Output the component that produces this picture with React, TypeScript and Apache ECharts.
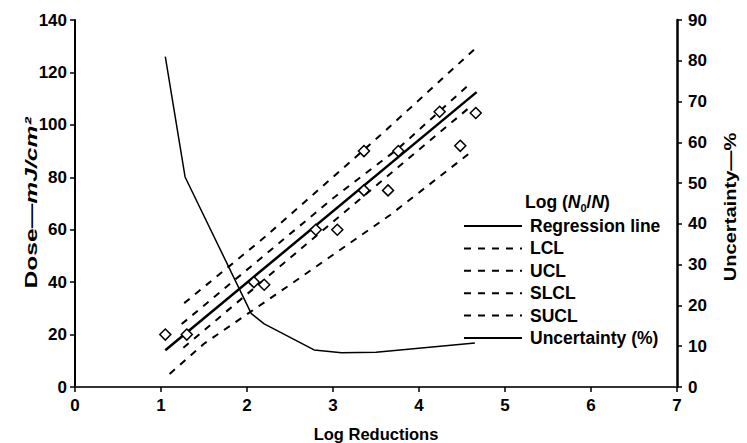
import React, { useEffect, useRef } from 'react';
import * as echarts from 'echarts';

// Observed data points (Log(N0/N) vs Dose)
const pointX = [1.05, 1.3, 2.08, 2.2, 2.8, 3.05, 3.36, 3.36, 3.64, 3.76, 4.24, 4.48, 4.66];
const pointY = [20, 20, 40, 39, 60, 60, 90, 75, 75, 90, 105, 92, 104.5];

// Regression line
const regX = [1.05, 4.67];
const regY = [14, 112.5];

// Confidence limits
const lclX = [1.26, 3.0, 4.6];
const lclY = [15, 63, 107];
const uclX = [1.24, 3.0, 3.76, 4.57];
const uclY = [24, 72, 91, 115];
// Prediction limits
const slclX = [1.1, 1.5, 2.5, 3.66, 4.62];
const slclY = [5, 16.5, 39, 65.5, 90];
const suclX = [1.27, 2.2, 3.1, 3.55, 4.65];
const suclY = [32, 57, 83, 96, 129];

// Uncertainty (%) on right axis
const uncX = [1.05, 1.28, 2.05, 2.2, 2.78, 3.1, 3.5, 4.65];
const uncY = [81, 51.5, 18, 15.5, 9.1, 8.4, 8.5, 10.8];

const legendNames = ['Regression line', 'LCL', 'UCL', 'SLCL', 'SUCL', 'Uncertainty (%)'];

const FONT = '"Liberation Sans", Arial, sans-serif';

const pairs = (xs: number[], ys: number[]) => xs.map((x, i) => [x, ys[i]]);

export default function App() {
  const ref = useRef<HTMLDivElement>(null);
  useEffect(() => {
    const chart = echarts.init(ref.current!, null, { renderer: 'svg' });
    const dashed = (name: string, xs: number[], ys: number[]) => ({
      name,
      type: 'line',
      data: pairs(xs, ys),
      symbol: 'none',
      lineStyle: { color: '#000', width: 2, type: [7, 7] },
      itemStyle: { color: '#000' },
      z: 3,
    });
    const tickLabel = { color: '#000', fontFamily: FONT, fontWeight: 'bold', fontSize: 17 };
    chart.setOption({
      animation: false,
      backgroundColor: '#fff',
      grid: { left: 75, right: 70, top: 20, bottom: 56, outerBoundsMode: 'none', containLabel: false },
      xAxis: {
        type: 'value',
        min: 0,
        max: 7,
        interval: 1,
        name: 'Log Reductions',
        nameLocation: 'middle',
        nameGap: 38,
        nameTextStyle: { color: '#000', fontFamily: FONT, fontWeight: 'bold', fontSize: 16.5 },
        axisLine: { show: true, onZero: false, lineStyle: { color: '#333', width: 2 } },
        axisTick: { show: true, length: 5, lineStyle: { color: '#000', width: 1.5 } },
        axisLabel: { ...tickLabel, margin: 10 },
        splitLine: { show: false },
      },
      yAxis: [
        {
          type: 'value',
          min: 0,
          max: 140,
          interval: 20,
          position: 'left',
          axisLine: { show: true, onZero: false, lineStyle: { color: '#000', width: 2 } },
          axisTick: { show: true, length: 5, lineStyle: { color: '#000', width: 1.5 } },
          axisLabel: { ...tickLabel, margin: 8 },
          splitLine: { show: false },
        },
        {
          type: 'value',
          min: 0,
          max: 90,
          interval: 10,
          position: 'right',
          axisLine: { show: true, onZero: false, lineStyle: { color: '#000', width: 2.5 } },
          axisTick: { show: true, length: 5, lineStyle: { color: '#000', width: 1.5 } },
          axisLabel: { ...tickLabel, margin: 11 },
          splitLine: { show: false },
        },
      ],
      legend: {
        data: legendNames,
        orient: 'vertical',
        left: 458,
        top: 212,
        itemWidth: 58,
        itemHeight: 16,
        itemGap: 4.4,
        itemStyle: { opacity: 0 },
        textStyle: {
          color: '#000',
          fontFamily: FONT,
          fontWeight: 'bold',
          fontSize: 17.5,
          lineHeight: 16,
          padding: [0, 0, 0, 3],
        },
      },
      graphic: [
        {
          type: 'text',
          x: 525,
          y: 202,
          style: {
            text: '{a|Log (}{i|N}{s|0}{a|/}{i|N}{a|)}',
            align: 'left',
            verticalAlign: 'middle',
            rich: {
              a: { fontFamily: FONT, fontWeight: 'bold', fontSize: 17.5, fill: '#000', lineHeight: 22 },
              i: { fontFamily: FONT, fontWeight: 'bold', fontStyle: 'italic', fontSize: 17.5, fill: '#000', lineHeight: 22 },
              s: { fontFamily: FONT, fontWeight: 'bold', fontSize: 11, fill: '#000', lineHeight: 11, verticalAlign: 'bottom' },
            },
          },
        },
        {
          type: 'text',
          x: 31,
          y: 203,
          rotation: Math.PI / 2,
          scaleX: 1.45,
          style: {
            text: '{a|Dose—}{i|mJ/cm²}',
            align: 'center',
            verticalAlign: 'middle',
            rich: {
              a: { fontFamily: FONT, fontWeight: 'bold', fontSize: 17, fill: '#000' },
              i: { fontFamily: FONT, fontWeight: 'bold', fontStyle: 'italic', fontSize: 17, fill: '#000' },
            },
          },
        },
        {
          type: 'text',
          x: 730,
          y: 207,
          rotation: Math.PI / 2,
          scaleX: 1.22,
          style: {
            text: 'Uncertainty—%',
            align: 'center',
            verticalAlign: 'middle',
            fontFamily: FONT,
            fontWeight: 'bold',
            fontSize: 16.5,
            fill: '#000',
          },
        },
      ],
      series: [
        {
          name: 'Log (N0/N)',
          type: 'scatter',
          data: pairs(pointX, pointY),
          symbol: 'diamond',
          symbolSize: 11,
          itemStyle: { color: '#fff', borderColor: '#000', borderWidth: 1.5, opacity: 1 },
          z: 5,
        },
        {
          name: 'Regression line',
          type: 'line',
          data: pairs(regX, regY),
          symbol: 'none',
          lineStyle: { color: '#000', width: 2.5, type: 'solid' },
          itemStyle: { color: '#000' },
          z: 4,
        },
        dashed('LCL', lclX, lclY),
        dashed('UCL', uclX, uclY),
        dashed('SLCL', slclX, slclY),
        dashed('SUCL', suclX, suclY),
        {
          name: 'Uncertainty (%)',
          type: 'line',
          yAxisIndex: 1,
          data: pairs(uncX, uncY),
          symbol: 'none',
          lineStyle: { color: '#000', width: 1.5, type: 'solid' },
          itemStyle: { color: '#000' },
          z: 3,
        },
      ],
    });
    return () => chart.dispose();
  }, []);
  return (
    <div
      ref={ref}
      style={{ position: 'fixed', left: 0, top: 0, width: 747, height: 443, background: '#fff' }}
    />
  );
}
